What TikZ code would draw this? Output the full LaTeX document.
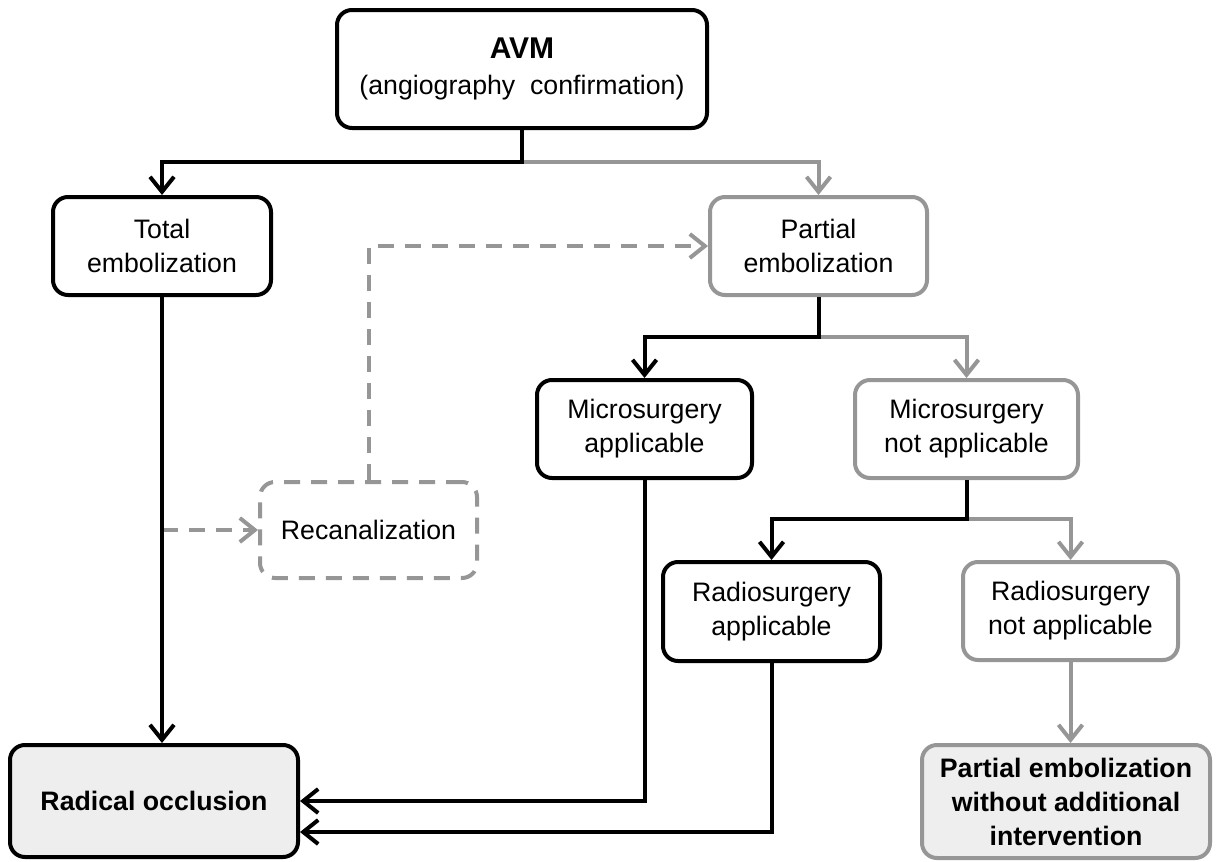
\documentclass[tikz,border=0pt]{standalone}
\usepackage{fontspec}
\setmainfont{Liberation Sans}
\usetikzlibrary{arrows.meta}
\definecolor{gline}{RGB}{150,150,150}
\definecolor{lfill}{RGB}{238,238,238}
\tikzset{
  box/.style={draw=black, line width=4pt, rounded corners=15pt, align=center, inner sep=0pt,
    font=\fontsize{26.7}{34}\selectfont, fill=white},
  gbox/.style={box, draw=gline},
  dbox/.style={box, draw=gline, dash pattern=on 16pt off 11pt},
  blk/.style={draw=black, line width=4pt, -{Straight Barb[length=15pt,width=24pt,line width=4pt]}},
  gry/.style={draw=gline, line width=4pt, -{Straight Barb[length=15pt,width=24pt,line width=4pt]}},
  dsh/.style={gry, dash pattern=on 16pt off 11pt},
  bold/.style={font=\fontsize{26.7}{34}\selectfont\bfseries},
}
\begin{document}
\begin{tikzpicture}[x=1pt,y=-1pt]
\useasboundingbox (0,0) rectangle (1216,862);
% nodes
\node[box, minimum width=370pt, minimum height=118pt] (avm) at (522,69)
  {{\fontsize{30}{36}\selectfont\bfseries AVM}\\[2pt](angiography\ \ confirmation)};
\node[box, minimum width=218pt, minimum height=98pt] (total) at (162,246) {Total\\embolization};
\node[gbox, minimum width=217pt, minimum height=98pt] (partial) at (818.5,246) {Partial\\embolization};
\node[box, minimum width=215pt, minimum height=98pt] (micA) at (644.5,429) {Microsurgery\\applicable};
\node[gbox, minimum width=223pt, minimum height=98pt] (micN) at (966.5,429) {Microsurgery\\not applicable};
\node[dbox, minimum width=217pt, minimum height=96pt] (recan) at (368.5,530) {Recanalization};
\node[box, minimum width=217pt, minimum height=99pt] (radA) at (771.5,611.5) {Radiosurgery\\applicable};
\node[gbox, minimum width=215pt, minimum height=98pt] (radN) at (1070.5,611) {Radiosurgery\\not applicable};
\node[box, bold, fill=lfill, minimum width=288pt, minimum height=112pt] (radical) at (154,801) {Radical occlusion};
\node[gbox, bold, fill=lfill, minimum width=288pt, minimum height=113pt] (pewo) at (1066,801.5) {Partial embolization\\without additional\\intervention};
% junctions
\coordinate (j1) at (522,162);
\coordinate (j2) at (818.5,337);
\coordinate (j3) at (966.5,519);
\coordinate (t1) at (162,530);
\coordinate (r2) at ([yshift=-31pt]radical.east);
% gray connectors
\draw[gry] (j1) -| (partial.north);
\draw[gry] (j2) -| (micN.north);
\draw[gry] (j3) -| (radN.north);
\draw[gry] (radN.south) -- (radN.south |- pewo.north);
\draw[dsh] (t1) -- (recan.west);
\draw[dsh] (recan.north) |- (partial.west);
% black connectors
\draw[blk] (avm.south) -- (j1) -| (total.north);
\draw[blk] (partial.south) -- (j2) -| (micA.north);
\draw[blk] (micN.south) -- (j3) -| (radA.north);
\draw[blk] (total.south) -- (total.south |- radical.north);
\draw[blk] (micA.south) |- (radical.east);
\draw[blk] (radA.south) |- (r2);
\end{tikzpicture}
\end{document}
